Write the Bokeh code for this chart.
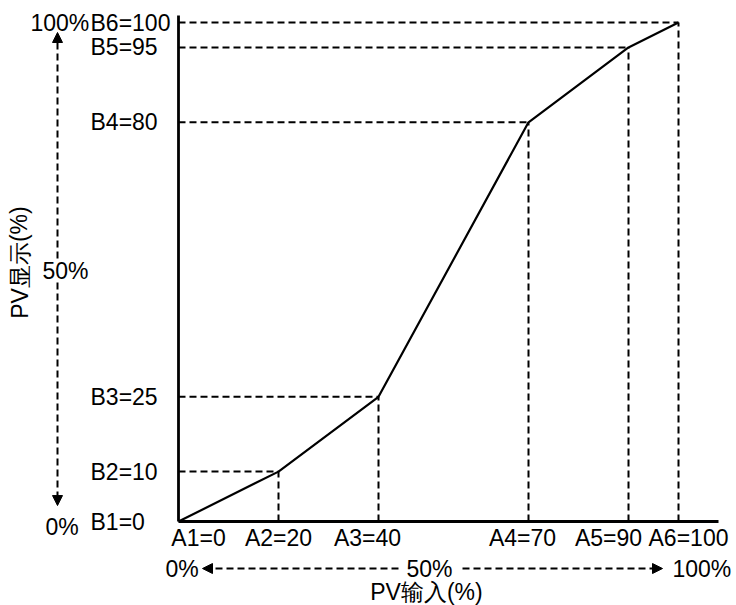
from bokeh.plotting import figure
from bokeh.models import Arrow, NormalHead, Range1d, ColumnDataSource
from bokeh.core.properties import value
from bokeh.embed import file_html
from bokeh.resources import INLINE

# ---- data ----
A = [0, 20, 40, 70, 90, 100]          # PV input (%)
B = [0, 10, 25, 80, 95, 100]          # PV display (%)
a_labels = ["A1=0", "A2=20", "A3=40", "A4=70", "A5=90", "A6=100"]
b_labels = ["B1=0", "B2=10", "B3=25", "B4=80", "B5=95", "B6=100"]
x_title = "PV输入(%)"
y_title = "PV显示(%)"
pct_labels = ["0%", "50%", "100%"]

FONT = value("Liberation Sans")
FS = "23px"

p = figure(width=736, height=605, output_backend="svg", toolbar_location=None,
           x_range=Range1d(-35.6, 111.6), y_range=Range1d(-16.83, 104.41),
           x_axis_type=None, y_axis_type=None, min_border=0)
p.outline_line_color = None
p.xgrid.visible = False
p.ygrid.visible = False

# axes lines
p.segment(x0=[0, 0], y0=[0, 0], x1=[0, 108], y1=[101.4, 0], line_color="black", line_width=2.8)

# dashed guide lines
src = ColumnDataSource(dict(a=A[1:], b=B[1:], z=[0] * (len(A) - 1)))
p.segment(x0="z", y0="b", x1="a", y1="b", source=src, line_color="black", line_width=2, line_dash="7 4")
p.segment(x0="a", y0="z", x1="a", y1="b", source=src, line_color="black", line_width=2, line_dash="7 4")

# curve
p.line(A, B, line_color="black", line_width=2.2)

# B labels (left aligned)
p.text(x=[-17.6] * len(B), y=B, text=b_labels, text_font=FONT, text_font_size=FS,
       text_align="left", text_baseline="middle", text_color="black")

# A labels (centered under each point, nudged to avoid overlaps)
a_off = [20, 0, -11, -6, -20, 10]
for xi, lab, off in zip(A, a_labels, a_off):
    p.text(x=[xi], y=[-3.4], text=[lab], x_offset=off, text_font=FONT, text_font_size=FS,
           text_align="center", text_baseline="middle", text_color="black")

# left percentage scale with dashed double arrow
head = dict(size=10, fill_color="black", line_color="black")
p.add_layout(Arrow(end=NormalHead(**head), x_start=-24.2, y_start=52.7, x_end=-24.2, y_end=98.0,
                   line_dash="7 4", line_width=2, line_color="black"))
p.add_layout(Arrow(end=NormalHead(**head), x_start=-24.2, y_start=47.9, x_end=-24.2, y_end=3.2,
                   line_dash="7 4", line_width=2, line_color="black"))
p.text(x=[-29.6, -27.2, -26.6], y=[100.0, 50.3, -1.0], text=[pct_labels[2], pct_labels[1], pct_labels[0]],
       text_font=FONT, text_font_size=FS, text_align="left", text_baseline="middle", text_color="black")

# bottom percentage scale with dashed double arrow
p.add_layout(Arrow(end=NormalHead(**head), x_start=44.0, y_start=-9.42, x_end=4.8, y_end=-9.42,
                   line_dash="7 4", line_width=2, line_color="black"))
p.add_layout(Arrow(end=NormalHead(**head), x_start=56.8, y_start=-9.42, x_end=96.8, y_end=-9.42,
                   line_dash="7 4", line_width=2, line_color="black"))
p.text(x=[-2.6, 98.8], y=[-9.42, -9.42], text=[pct_labels[0], pct_labels[2]],
       text_font=FONT, text_font_size=FS, text_align="left", text_baseline="middle", text_color="black")
p.text(x=[50.2], y=[-9.42], text=[pct_labels[1]],
       text_font=FONT, text_font_size=FS, text_align="center", text_baseline="middle", text_color="black")

# titles
p.text(x=[49.6], y=[-14.2], text=[x_title], text_font=FONT, text_font_size=FS,
       text_align="center", text_baseline="middle", text_color="black")
p.text(x=[-31.8], y=[51.9], text=[y_title], angle=1.5708, text_font=FONT, text_font_size=FS,
       text_align="center", text_baseline="middle", text_color="black")

open("out.html", "w").write(file_html(p, INLINE))
